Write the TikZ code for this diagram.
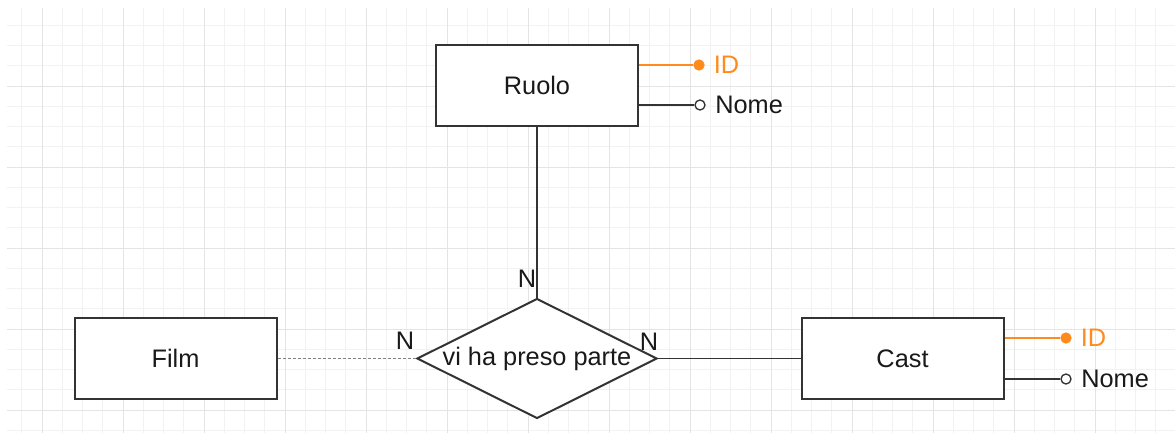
\documentclass[tikz,border=0pt]{standalone}
\usepackage{fontspec}
\setmainfont{Liberation Sans}
\usetikzlibrary{shapes.geometric}
\definecolor{gridminor}{HTML}{F2F2F2}
\definecolor{gridmajor}{HTML}{E4E4E4}
\definecolor{keyorange}{HTML}{FF8A1E}
\definecolor{edgegray}{HTML}{333333}
\newcommand{\erfont}{\fontsize{19}{22.8}\selectfont}
\tikzset{
  entity/.style={draw=edgegray, line width=1.5pt, fill=white, inner sep=0pt,
    minimum width=151.5pt, minimum height=60.75pt, font=\erfont, text=black!90},
  relation/.style={diamond, aspect=2, draw=edgegray, line width=1.5pt, fill=white,
    inner sep=0pt, minimum width=180pt, minimum height=90pt, font=\erfont, text=black!90},
  link/.style={draw=edgegray, line width=1.3pt},
  weaklink/.style={draw=gray, line width=0.8pt, dash pattern=on 2.25pt off 1.5pt},
  card/.style={font=\erfont, inner sep=0pt, text=black!90},
  keydot/.style={circle, fill=keyorange, inner sep=0pt, minimum size=8.5pt,
    label={[font=\erfont, text=keyorange, inner sep=0pt, label distance=6.5pt]right:ID}},
  attrdot/.style={circle, draw=edgegray, fill=white, line width=1pt, inner sep=0pt, minimum size=7.5pt,
    label={[font=\erfont, text=black!90, inner sep=0pt, label distance=7pt]right:#1}},
}
\begin{document}
\begin{tikzpicture}[x=0.75pt, y=-0.75pt]
  \useasboundingbox (0,0) rectangle (1175,433);
  % background grid
  \foreach \gx in {21.75,42,...,1175}
    \draw[gridminor, line width=0.75pt] (\gx,8) -- (\gx,433);
  \foreach \gy in {25.25,45.5,...,433}
    \draw[gridminor, line width=0.75pt] (7,\gy) -- (1175,\gy);
  \foreach \gx in {42,123,...,1175}
    \draw[gridmajor, line width=0.75pt] (\gx,8) -- (\gx,433);
  \foreach \gy in {86,167,...,433}
    \draw[gridmajor, line width=0.75pt] (7,\gy) -- (1175,\gy);

  % entities and relationship
  \node[entity] (ruolo) at (537,85.5) {Ruolo};
  \node[entity] (film) at (175.5,358.5) {Film};
  \node[entity] (cast) at (902.5,358.5) {Cast};
  \node[relation] (partecipa) at (537,358.5) {vi ha preso parte};

  % connections
  \draw[link] (ruolo.south) -- (partecipa.north);
  \draw[weaklink] (film.east) -- (partecipa.west);
  \draw[link] (partecipa.east) -- (cast.west);

  % cardinalities
  \node[card] (cardruolo) at (527,279) {N};
  \node[card] (cardfilm) at (405,341) {N};
  \node[card] (cardcast) at (649,342) {N};

  % attributes of Ruolo
  \node[keydot] (ruoloid) at (699,65) {};
  \node[attrdot=Nome] (ruolonome) at (700,105) {};
  \draw[keyorange, line width=1.1pt] (ruolo.east |- ruoloid) -- (ruoloid);
  \draw[link, line width=1.1pt] (ruolo.east |- ruolonome) -- (ruolonome);

  % attributes of Cast
  \node[keydot] (castid) at (1066,338) {};
  \node[attrdot=Nome] (castnome) at (1066,379) {};
  \draw[keyorange, line width=1.1pt] (cast.east |- castid) -- (castid);
  \draw[link, line width=1.1pt] (cast.east |- castnome) -- (castnome);
\end{tikzpicture}
\end{document}
